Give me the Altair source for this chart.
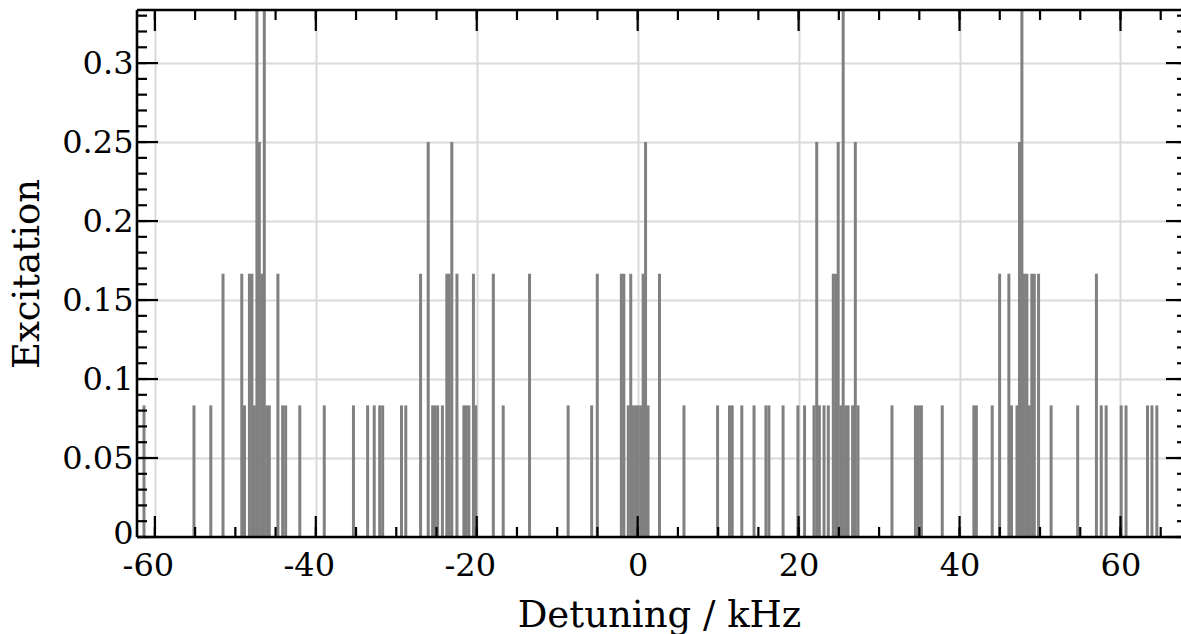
import altair as alt
import pandas as pd

# detuning positions (kHz) of each bar
detuning = [
    -61.35, -55.14, -53.05, -51.53, -49.20, -48.86, -48.25, -47.94, -47.63, -47.32,
    -47.02, -46.71, -46.40, -46.09, -45.78, -44.71, -44.12, -43.75, -41.99, -38.95,
    -35.32, -33.56, -32.74, -32.06, -31.69, -29.35, -28.82, -26.98, -26.03, -25.48,
    -25.17, -24.86, -24.27, -23.72, -23.41, -23.10, -22.46, -21.60, -21.29, -20.98,
    -20.41, -20.12, -17.94, -16.71, -13.44, -8.64, -5.72, -5.02, -2.03, -1.72,
    -1.17, -0.86, -0.55, -0.25, 0.06, 0.37, 0.68, 0.98, 1.29, 2.71,
    5.75, 9.93, 11.41, 11.75, 12.94, 14.46, 15.94, 16.31, 18.07, 19.91,
    20.74, 21.91, 22.25, 22.58, 23.16, 23.69, 24.31, 24.62, 24.92, 25.23,
    25.54, 25.85, 26.15, 26.71, 27.05, 27.38, 31.60, 34.52, 34.89, 35.26,
    37.85, 41.78, 42.09, 44.06, 44.98, 46.13, 46.46, 47.14, 47.45, 47.75,
    48.06, 48.37, 48.68, 48.98, 49.29, 49.82, 51.38, 54.68, 57.01, 57.61,
    58.22, 60.09, 60.69, 63.36, 63.91, 64.52,
]
excitation = [
    0.0833, 0.0833, 0.0833, 0.1667, 0.1667, 0.0833, 0.1667, 0.1667, 0.0833, 0.3333,
    0.25, 0.1667, 0.3333, 0.0833, 0.0833, 0.1667, 0.0833, 0.0833, 0.0833, 0.0833,
    0.0833, 0.0833, 0.0833, 0.0833, 0.0833, 0.0833, 0.0833, 0.1667, 0.25, 0.0833,
    0.0833, 0.0833, 0.0833, 0.1667, 0.1667, 0.25, 0.1667, 0.0833, 0.0833, 0.0833,
    0.1667, 0.0833, 0.1667, 0.0833, 0.1667, 0.0833, 0.0833, 0.1667, 0.1667, 0.1667,
    0.0833, 0.1667, 0.0833, 0.0833, 0.0833, 0.0833, 0.1667, 0.25, 0.0833, 0.1667,
    0.0833, 0.0833, 0.0833, 0.0833, 0.0833, 0.0833, 0.0833, 0.0833, 0.0833, 0.0833,
    0.0833, 0.0833, 0.25, 0.0833, 0.0833, 0.0833, 0.1667, 0.1667, 0.25, 0.0833,
    0.3333, 0.0833, 0.0833, 0.0833, 0.25, 0.0833, 0.0833, 0.0833, 0.0833, 0.0833,
    0.0833, 0.0833, 0.0833, 0.0833, 0.1667, 0.1667, 0.0833, 0.0833, 0.25, 0.3333,
    0.1667, 0.1667, 0.0833, 0.1667, 0.1667, 0.1667, 0.0833, 0.0833, 0.1667, 0.0833,
    0.0833, 0.0833, 0.0833, 0.0833, 0.0833, 0.0833,
]

x_major = [-60, -40, -20, 0, 20, 40, 60]
x_minor = [-60, -55, -50, -45, -40, -35, -30, -25, -20, -15, -10, -5, 0, 5, 10, 15,
           20, 25, 30, 35, 40, 45, 50, 55, 60, 65]
y_major = [0, 0.05, 0.1, 0.15, 0.2, 0.25, 0.3]
y_minor = [round(i * 0.01, 2) for i in range(34)]

W, H = 1044, 527
FONT = "DejaVu Serif"
TICKFS = 32
TITLEFS = 37
xscale = alt.Scale(domain=[-61.6, 66.9], nice=False, zero=False)
yscale = alt.Scale(domain=[0, 0.3336], nice=False, zero=False)

xaxis = alt.Axis(values=x_major, grid=True, gridColor="#dadada", gridWidth=2,
                 ticks=False, domain=False, labelFont=FONT, labelFontSize=TICKFS,
                 labelColor="black", labelPadding=38, labelBaseline="alphabetic",
                 labelExpr="'' + datum.value",
                 labelOffset={"condition": {"test": "datum.value < 0", "value": -7}, "value": 0},
                 labelFlush=False,
                 title="Detuning / kHz", titleFont=FONT, titleFontSize=TITLEFS,
                 titleFontWeight="normal", titleColor="black",
                 titleBaseline="alphabetic", titleY=89)
yaxis = alt.Axis(values=y_major, grid=True, gridColor="#dadada", gridWidth=2,
                 ticks=False, domain=False, labelFont=FONT, labelFontSize=TICKFS,
                 labelColor="black", labelPadding=4,
                 labelExpr="'' + datum.value",
                 labelOffset={"condition": {"test": "datum.value == 0", "value": -4}, "value": 0},
                 labelFlush=False,
                 title="Excitation", titleFont=FONT, titleFontSize=TITLEFS,
                 titleFontWeight="normal", titleColor="black",
                 titleAngle=-90, titleX=-110, titleY=H / 2,
                 titleAlign="center", titleBaseline="middle")

df = pd.DataFrame({"d": detuning, "e": excitation})

bars = alt.Chart(df).mark_bar(width=3, color="#808080", clip=True).encode(
    x=alt.X("d:Q", scale=xscale, axis=xaxis),
    y=alt.Y("e:Q", scale=yscale, axis=yaxis),
)

xmaj = pd.DataFrame({"v": x_major})
xmin = pd.DataFrame({"v": x_minor})
ymaj = pd.DataFrame({"v": y_major})
ymin = pd.DataFrame({"v": y_minor})

TW = 2.2
def xticks(data, length):
    b = alt.Chart(data).mark_rule(color="black", strokeWidth=TW).encode(
        x=alt.X("v:Q", scale=xscale, axis=xaxis), y=alt.value(H), y2=alt.value(H - length))
    t = alt.Chart(data).mark_rule(color="black", strokeWidth=TW).encode(
        x=alt.X("v:Q", scale=xscale, axis=xaxis), y=alt.value(0), y2=alt.value(length))
    return [b, t]

def yticks(data, length, rlength):
    l = alt.Chart(data).mark_rule(color="black", strokeWidth=TW).encode(
        y=alt.Y("v:Q", scale=yscale, axis=yaxis), x=alt.value(0), x2=alt.value(length))
    r = alt.Chart(data).mark_rule(color="black", strokeWidth=TW).encode(
        y=alt.Y("v:Q", scale=yscale, axis=yaxis), x=alt.value(W), x2=alt.value(W - rlength))
    return [l, r]

spine_df = pd.DataFrame({"k": [0]})
SW = 2.6
bottom = alt.Chart(spine_df).mark_rule(color="black", strokeWidth=SW).encode(
    x=alt.value(0), x2=alt.value(W), y=alt.value(H))
top = alt.Chart(spine_df).mark_rule(color="black", strokeWidth=SW).encode(
    x=alt.value(0), x2=alt.value(W), y=alt.value(0))
left = alt.Chart(spine_df).mark_rule(color="black", strokeWidth=SW).encode(
    x=alt.value(0), y=alt.value(0), y2=alt.value(H))

layers = [bars] + xticks(xmin, 10) + xticks(xmaj, 21) + yticks(ymin, 10, 4) + yticks(ymaj, 21, 15) + [bottom, top, left]

chart = alt.layer(*layers).properties(
    width=W, height=H,
    autosize=alt.AutoSizeParams(type="none"),
    padding={"left": 137, "top": 10, "right": 0, "bottom": 97},
).configure_view(stroke=None).configure(background="white")

chart.save("out.html", embed_options={"renderer": "svg", "actions": False})
